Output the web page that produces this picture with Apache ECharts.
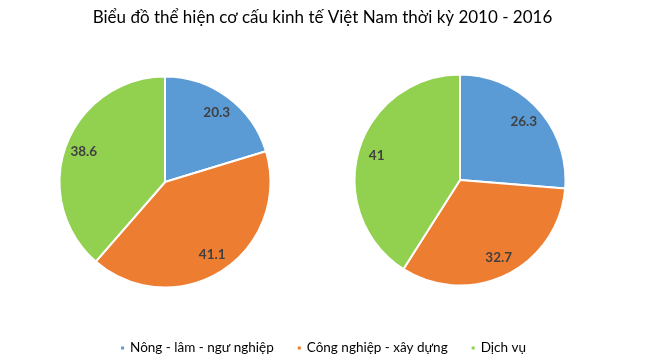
<!DOCTYPE html>
<html><head><meta charset="utf-8">
<script src="https://cdn.jsdelivr.net/npm/echarts@6/dist/echarts.min.js"></script>
<style>html,body{margin:0;padding:0;background:#fff}#c{width:645px;height:363px}</style>
</head><body><div id="c"></div>
<script>
var categories = ['Nông - lâm - ngư nghiệp', 'Công nghiệp - xây dựng', 'Dịch vụ'];
var values2010 = [20.3, 41.1, 38.6];
var values2016 = [26.3, 32.7, 41];
var colors = ['#5B9BD5', '#ED7D31', '#92D050'];
var FONT = 'Lato';

function toData(vals){ return categories.map(function(n,i){ return {name:n, value:vals[i]}; }); }

function pieSeries(vals, center){
  return [{
    type:'pie', center:center, radius:[0,105.5], startAngle:90, clockwise:true,
    data: toData(vals), label:{show:false}, labelLine:{show:false},
    itemStyle:{borderColor:'#fff', borderWidth:2}, silent:true, emphasis:{disabled:true}
  },{
    type:'pie', center:center, radius:[62,105.5], startAngle:90, clockwise:true,
    data: toData(vals), silent:true, emphasis:{disabled:true}, legendHoverLink:false,
    itemStyle:{color:'rgba(0,0,0,0)', borderWidth:0},
    label:{show:true, position:'inside', formatter:'{c}', color:'#404040', fontWeight:'bold', fontSize:13.5, fontFamily:FONT},
    labelLine:{show:false}
  }];
}

var chart = echarts.init(document.getElementById('c'));
chart.setOption({
  animation:false,
  color: colors,
  title:{ text:'Biểu đồ thể hiện cơ cấu kinh tế Việt Nam thời kỳ 2010 - 2016', left:'center', top:4,
    textStyle:{fontFamily:FONT, fontSize:17, fontWeight:'normal', color:'#000'} },
  legend:{ data:categories, bottom:3, left:'center', itemWidth:5, itemHeight:5, itemGap:22,
    icon:'rect', textStyle:{fontFamily:FONT, fontSize:13.5, color:'#000'}, selectedMode:false },
  series: pieSeries(values2010, [165,182]).concat(pieSeries(values2016, [460,180]))
});
</script></body></html>
